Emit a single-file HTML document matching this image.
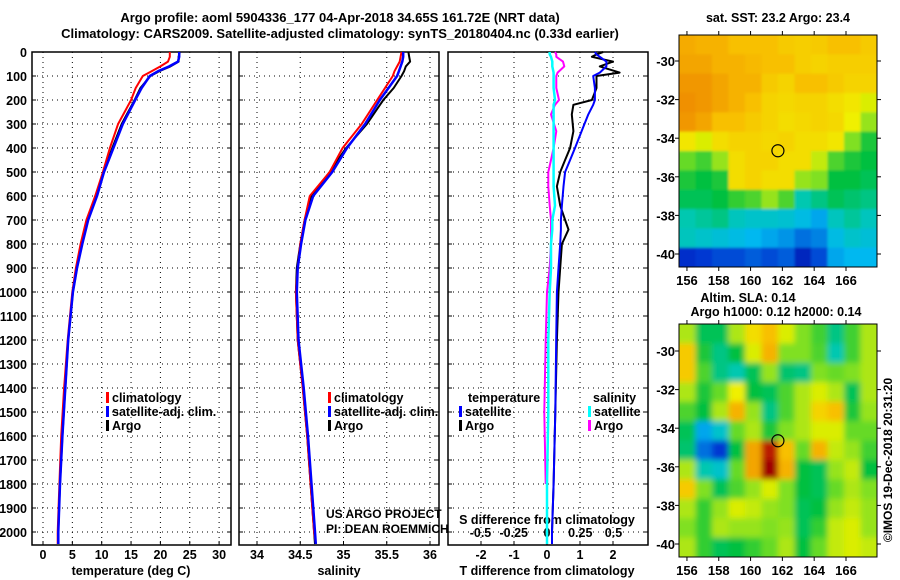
<!DOCTYPE html>
<html><head><meta charset="utf-8"><style>
body{margin:0;background:#fff}
svg{display:block;font-family:"Liberation Sans",sans-serif}
.b{font-weight:bold;font-size:13px}
.t{font-weight:bold;font-size:12.5px}
</style></head><body>
<svg id="s" width="900" height="580" viewBox="0 0 900 580">
<defs>
<filter id="bl1" x="-5%" y="-5%" width="110%" height="110%"><feGaussianBlur stdDeviation="1.2"/></filter>
<filter id="bl2" x="-5%" y="-5%" width="110%" height="110%"><feGaussianBlur stdDeviation="3"/></filter>
<clipPath id="c1"><rect x="679" y="35" width="198" height="232"/></clipPath>
<clipPath id="c2"><rect x="679" y="324" width="198" height="233"/></clipPath>
</defs>
<text class="b" x="340" y="22" text-anchor="middle">Argo profile: aoml 5904336_177 04-Apr-2018 34.65S 161.72E (NRT data)</text>
<text class="b" x="340" y="38" text-anchor="middle">Climatology: CARS2009. Satellite-adjusted climatology: synTS_20180404.nc (0.33d earlier)</text>
<g id="g"></g>
</svg>
<script>
// ---- data ----
const depthT = [0,20,40,60,80,100,150,200,300,400,500,600,700,800,900,1000,1200,1400,1600,1800,2000,2050];
const tempClim = [21.6,21.6,21.3,20.0,18.5,17.0,15.8,15.0,12.8,11.4,10.2,8.9,7.4,6.4,5.6,5.0,4.2,3.6,3.1,2.8,2.5,2.5];
const tempSat = [23.2,23.2,23.0,21.5,19.6,18.2,16.8,15.7,13.6,12.0,10.4,9.2,7.7,6.7,5.8,5.1,4.3,3.8,3.3,2.9,2.6,2.6];
const tempArgo = [23.3,23.1,23.1,21.7,19.8,18.3,16.6,15.6,13.4,11.8,10.3,9.1,7.6,6.6,5.8,5.1,4.3,3.8,3.3,2.9,2.6,2.6];
const salClim = [35.67,35.66,35.65,35.62,35.59,35.57,35.48,35.39,35.21,34.99,34.84,34.61,34.55,34.50,34.47,34.45,34.47,34.53,34.58,34.62,34.66,34.68];
const salSat = [35.69,35.69,35.68,35.66,35.64,35.62,35.52,35.42,35.25,35.04,34.87,34.65,34.56,34.51,34.47,34.46,34.48,34.54,34.59,34.63,34.67,34.68];
const salArgo = [35.75,35.76,35.77,35.72,35.70,35.67,35.58,35.46,35.27,35.03,34.84,34.63,34.55,34.50,34.46,34.45,34.47,34.53,34.58,34.62,34.66,34.67];
const depthD = [0,10,20,40,60,86,100,150,200,220,260,330,400,450,500,560,640,700,740,800,900,1000,1200,1500,1800,2000,2050];
const tDiffSat = [1.45,1.5,1.6,1.8,1.8,1.6,1.4,1.45,1.45,1.4,1.25,1.05,0.85,0.7,0.55,0.5,0.45,0.42,0.42,0.4,0.35,0.3,0.28,0.25,0.2,0.15,0.15];
const tDiffArgo = [1.7,1.5,1.36,2.0,1.6,2.2,1.5,1.5,1.36,0.8,0.75,0.8,0.7,0.55,0.4,0.3,0.4,0.55,0.65,0.45,0.4,0.35,0.3,0.25,0.2,0.15,0.15];
const sDiffSat = [0.02,0.02,0.03,0.04,0.04,0.05,0.05,0.05,0.06,0.05,0.05,0.05,0.05,0.05,0.05,0.05,0.06,0.04,0.04,0.03,0.03,0.02,0.01,0.01,0.0,0.0,0.0];
const sDiffArgo = [0.06,0.07,0.07,0.12,0.13,0.08,0.07,0.07,0.09,0.06,0.03,0.07,0.05,0.03,0.01,0.01,0.02,0.03,0.03,0.03,0.02,0.0,-0.01,-0.02,-0.01,null,null];
const depthTicks = [0,100,200,300,400,500,600,700,800,900,1000,1100,1200,1300,1400,1500,1600,1700,1800,1900,2000];
const tempTicks = [0,5,10,15,20,25,30];
const salTicks = [34,34.5,35,35.5,36];
const tdTicks = [-2,-1,0,1,2];
const sdTicks = [-0.5,-0.25,0,0.25,0.5];
const sdTickLabels = ['-0.5','-0.25','0','0.25','0.5'];
const lonTicks = [156,158,160,162,164,166];
const latTicks = [-30,-32,-34,-36,-38,-40];
const argoLon = 161.72, argoLat = -34.65;
const sst = [
[0.83,0.82,0.82,0.80,0.80,0.80,0.78,0.77,0.78,0.80,0.80,0.78],
[0.84,0.84,0.82,0.82,0.81,0.80,0.80,0.77,0.76,0.77,0.77,0.77],
[0.86,0.86,0.84,0.82,0.82,0.78,0.76,0.80,0.80,0.78,0.76,0.76],
[0.87,0.86,0.84,0.82,0.80,0.76,0.75,0.76,0.76,0.74,0.72,0.68],
[0.86,0.84,0.80,0.80,0.78,0.76,0.74,0.75,0.76,0.75,0.70,0.62],
[0.72,0.68,0.74,0.76,0.76,0.75,0.76,0.74,0.74,0.72,0.60,0.52],
[0.58,0.55,0.62,0.74,0.76,0.76,0.74,0.74,0.66,0.56,0.52,0.50],
[0.52,0.50,0.52,0.74,0.76,0.74,0.74,0.62,0.60,0.50,0.50,0.48],
[0.48,0.48,0.50,0.54,0.56,0.62,0.56,0.40,0.44,0.48,0.46,0.44],
[0.40,0.42,0.44,0.38,0.36,0.36,0.35,0.32,0.28,0.38,0.42,0.38],
[0.38,0.36,0.34,0.32,0.30,0.28,0.26,0.22,0.24,0.32,0.36,0.34],
[0.14,0.16,0.18,0.18,0.20,0.18,0.20,0.12,0.18,0.28,0.30,0.30]];
const sla = [
[0.64,0.48,0.48,0.64,0.74,0.80,0.68,0.60,0.55,0.44,0.55,0.64],
[0.78,0.52,0.44,0.50,0.68,0.82,0.60,0.60,0.56,0.40,0.55,0.64],
[0.78,0.56,0.44,0.40,0.48,0.62,0.46,0.44,0.60,0.58,0.60,0.64],
[0.64,0.52,0.58,0.70,0.50,0.48,0.56,0.64,0.68,0.64,0.48,0.64],
[0.56,0.50,0.64,0.82,0.62,0.44,0.56,0.64,0.76,0.80,0.52,0.62],
[0.48,0.28,0.36,0.58,0.64,0.52,0.60,0.64,0.68,0.68,0.58,0.58],
[0.46,0.22,0.16,0.50,0.84,0.96,0.80,0.58,0.82,0.66,0.62,0.55],
[0.64,0.40,0.36,0.58,0.84,1.00,0.82,0.50,0.48,0.62,0.66,0.50],
[0.78,0.60,0.48,0.56,0.62,0.68,0.60,0.50,0.48,0.58,0.64,0.60],
[0.64,0.54,0.62,0.68,0.66,0.62,0.60,0.48,0.50,0.62,0.66,0.62],
[0.60,0.54,0.64,0.62,0.62,0.60,0.62,0.48,0.54,0.66,0.68,0.62],
[0.64,0.54,0.48,0.50,0.54,0.58,0.64,0.50,0.58,0.66,0.68,0.66]];

// ---- helpers ----
const NS='http://www.w3.org/2000/svg', G=document.getElementById('g');
function mk(tag,attrs,parent){const e=document.createElementNS(NS,tag);for(const k in attrs)e.setAttribute(k,attrs[k]);(parent||G).appendChild(e);return e;}
const Y0=52, YB=545;
const yD=d=>Y0+d*0.24;
const panels=[{x0:32,x1:231,f:v=>43+v*5.87},{x0:239,x1:439,f:v=>257+(v-34)*86.5},{x0:448,x1:648,f:v=>547+v*33}];
const xS=v=>547+v*133;

function frame(p,ticks,name){
  const g=mk('g',{});
  
  
  depthTicks.forEach(d=>{const l=mk('line',{x1:p.x0,x2:p.x1,y1:yD(d),y2:yD(d),stroke:'#000','stroke-width':1,'stroke-dasharray':'1,4'},g);
    
    mk('line',{x1:p.x0,x2:p.x0+4,y1:yD(d),y2:yD(d),stroke:'#000'},g);mk('line',{x1:p.x1-4,x2:p.x1,y1:yD(d),y2:yD(d),stroke:'#000'},g);});
  ticks.forEach(v=>{const x=p.f(v);const l=mk('line',{x1:x,x2:x,y1:Y0,y2:YB,stroke:'#000','stroke-dasharray':'1,4'},g);
    
    mk('line',{x1:x,x2:x,y1:YB-4,y2:YB,stroke:'#000'},g);});
  const r=mk('rect',{x:p.x0,y:Y0,width:p.x1-p.x0,height:YB-Y0,fill:'none',stroke:'#000','stroke-width':1.5},g);
  
}
function line(xs,ys,fx,col,w,name){
  let d='';xs.forEach((v,i)=>{if(v===null)return;d+=(d?'L':'M')+fx(v).toFixed(1)+','+yD(ys[i]).toFixed(1);});
  const p=mk('path',{d:d,fill:'none',stroke:col,'stroke-width':w,'stroke-linejoin':'round'});
  
}
function txt(x,y,s,cls,anchor,name){const t=mk('text',{x:x,y:y,'class':cls||'t','text-anchor':anchor||'start'});t.textContent=s;
  return t;}
function legend(x,y,col,label,name){const r=mk('rect',{x:x,y:y-10,width:3,height:11,fill:col});
  
  txt(x+6,y,label,'t','start',name);}

// panels
frame(panels[0],tempTicks,'temperature-panel');
frame(panels[1],salTicks,'salinity-panel');
frame(panels[2],tdTicks,'difference-panel');
depthTicks.forEach(d=>txt(27,yD(d)+5,String(d),'t','end','depth-tick-label'));
tempTicks.forEach(v=>txt(panels[0].f(v),559,String(v),'t','middle','temperature-tick-label'));
salTicks.forEach(v=>txt(panels[1].f(v),559,String(v),'t','middle','salinity-tick-label'));
tdTicks.forEach(v=>txt(panels[2].f(v),559,String(v),'t','middle','t-diff-tick-label'));
sdTicks.forEach((v,i)=>txt(xS(v),537,sdTickLabels[i],'t','middle','s-diff-tick-label'));
txt(131,575,'temperature (deg C)','t','middle','temperature-axis-title');
txt(339,575,'salinity','t','middle','salinity-axis-title');
txt(547,575,'T difference from climatology','t','middle','t-diff-axis-title');
txt(547,524,'S difference from climatology','t','middle','s-diff-axis-title');

// profiles
line(tempArgo,depthT,panels[0].f,'#000',2,'temp-argo-line');
line(tempClim,depthT,panels[0].f,'#f00',2,'temp-climatology-line');
line(tempSat,depthT,panels[0].f,'#00f',2.5,'temp-satellite-line');
line(salArgo,depthT,panels[1].f,'#000',2,'sal-argo-line');
line(salClim,depthT,panels[1].f,'#f00',2,'sal-climatology-line');
line(salSat,depthT,panels[1].f,'#00f',2.5,'sal-satellite-line');
line(sDiffArgo,depthD,xS,'#f0f',2,'s-diff-argo-line');
line(tDiffArgo,depthD,panels[2].f,'#000',2,'t-diff-argo-line');
line(tDiffSat,depthD,panels[2].f,'#00f',2,'t-diff-satellite-line');
line(sDiffSat,depthD,xS,'#0ff',2.5,'s-diff-satellite-line');

// legends
legend(106,402,'#f00','climatology','legend-climatology');
legend(106,416,'#00f','satellite-adj. clim.','legend-satellite');
legend(106,430,'#000','Argo','legend-argo');
legend(328,402,'#f00','climatology','legend-climatology-sal');
legend(328,416,'#00f','satellite-adj. clim.','legend-satellite-sal');
legend(328,430,'#000','Argo','legend-argo-sal');
txt(468,402,'temperature','t','start','legend-temperature-heading');
legend(459,416,'#00f','satellite','legend-t-satellite');
legend(459,430,'#000','Argo','legend-t-argo');
txt(593,402,'salinity','t','start','legend-salinity-heading');
legend(588,416,'#0ff','satellite','legend-s-satellite');
legend(588,430,'#f0f','Argo','legend-s-argo');
const c1=txt(326,518,'US ARGO PROJECT','', 'start','credit-project');c1.setAttribute('style','font-size:12px');
const c2=txt(326,533,'PI: DEAN ROEMMICH','', 'start','credit-pi');c2.setAttribute('style','font-size:12px');

// colormap
const stops=[[0,[0,0,120]],[0.15,[0,48,208]],[0.3,[0,184,240]],[0.4,[0,200,176]],[0.5,[0,192,64]],[0.6,[128,224,32]],[0.7,[240,240,0]],[0.8,[248,192,0]],[0.87,[240,144,0]],[0.95,[192,32,0]],[1,[160,0,0]]];
function cmap(v){for(let i=1;i<stops.length;i++){if(v<=stops[i][0]){const a=stops[i-1],b=stops[i],t=(v-a[0])/(b[0]-a[0]);
  return 'rgb('+a[1].map((c,k)=>Math.round(c+(b[1][k]-c)*t)).join(',')+')';}}return 'rgb(160,0,0)';}

function map(grid,mx0,my0,mw,mh,clip,filt,name,latY){
  const lonX=l=>mx0+(l-155.5)/(167.95-155.5)*mw;
  const outer=mk('g',{'clip-path':'url(#'+clip+')'});
  
  const inner=mk('g',{filter:'url(#'+filt+')'},outer);
  const rows=grid.length, cols=grid[0].length, cw=mw/cols, ch=mh/rows;
  grid.forEach((row,r)=>row.forEach((v,c)=>{
    let x=mx0+c*cw,y=my0+r*ch,w=cw+0.5,h=ch+0.5;
    if(c===0){x-=12;w+=12;} if(c===cols-1){w+=12;} if(r===0){y-=12;h+=12;} if(r===rows-1){h+=12;}
    const cell=mk('rect',{x:x,y:y,width:w,height:h,fill:cmap(v)},inner);
    }));
  const fr=mk('rect',{x:mx0,y:my0,width:mw,height:mh,fill:'none',stroke:'#000','stroke-width':1});
  
  lonTicks.forEach(l=>{const x=lonX(l);mk('line',{x1:x,x2:x,y1:my0-4,y2:my0,stroke:'#000'});mk('line',{x1:x,x2:x,y1:my0+mh,y2:my0+mh+4,stroke:'#000'});
    txt(x,my0+mh+18,String(l),'b','middle','longitude-tick-label');});
  latTicks.forEach(l=>{const y=latY(l);mk('line',{x1:mx0-4,x2:mx0,y1:y,y2:y,stroke:'#000'});mk('line',{x1:mx0+mw,x2:mx0+mw+4,y1:y,y2:y,stroke:'#000'});
    txt(mx0-4,y+5,String(l),'b','end','latitude-tick-label');});
  const m=mk('circle',{cx:lonX(argoLon),cy:latY(argoLat),r:6,fill:'none',stroke:'#000','stroke-width':1.2});
  
}
map(sst,679,35,198,232,'c1','bl1','sst-map',l=>61+(-30-l)*19.3);
map(sla,679,324,198,233,'c2','bl2','sla-map',l=>351+(-30-l)*19.3);
txt(778,22,'sat. SST: 23.2 Argo: 23.4','t','middle','sst-map-title');
txt(748,302,'Altim. SLA: 0.14','t','middle','sla-map-title-1');
txt(776,316,'Argo h1000: 0.12 h2000: 0.14','t','middle','sla-map-title-2');
const rot=txt(0,0,'©IMOS 19-Dec-2018 20:31:20','','middle','timestamp-credit');
rot.setAttribute('style','font-size:12px');
rot.setAttribute('transform','translate(892,460) rotate(-90)');
</script>
</body></html>
